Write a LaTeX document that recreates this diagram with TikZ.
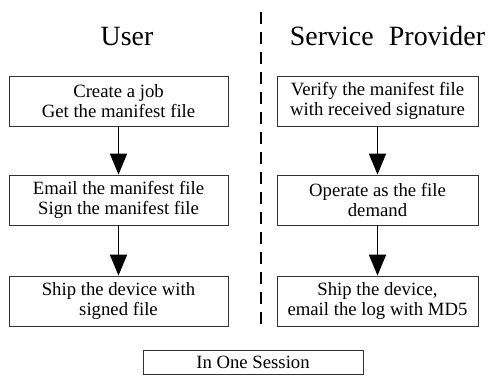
\documentclass[tikz,border=0pt]{standalone}
\usepackage{fontspec}
\setmainfont{Liberation Serif}
\usepackage{tikz}
\usetikzlibrary{arrows.meta, positioning}

\begin{document}
\begin{tikzpicture}[
    x=1bp, y=-1bp,
    act/.style={draw, line width=0.8bp, black!80, text=black, inner sep=0pt,
      minimum height=50bp, align=center, font=\fontsize{18.8}{20.5}\selectfont},
    flow/.style={-{Triangle[length=21bp, width=17bp]}, line width=1.8bp},
    head/.style={font=\fontsize{28}{30}\selectfont},
    divide/.style={line width=2bp, dash pattern=on 12bp off 8bp},
  ]
    \useasboundingbox (0,0) rectangle (488,376);
    % column titles
    \node[head] (user) at (127,36) {User};
    \node[head] (prov) at (387.5,36) {Service\hspace{0.3em} Provider};
    % user side
    \node[act, minimum width=219bp] (u1) at (118.5,101) {Create a job\\Get the manifest file};
    \node[act, minimum width=219bp] (u2) at (118.5,200) {Email the manifest file\\Sign the manifest file};
    \node[act, minimum width=219bp] (u3) at (118.5,301) {Ship the device with\\signed file};
    % provider side
    \node[act, minimum width=201bp] (p1) at (377.5,101) {Verify the manifest file\\with received signature};
    \node[act, minimum width=201bp] (p2) at (377.5,200) {Operate as the file\\demand};
    \node[act, minimum width=201bp] (p3) at (377.5,301) {Ship the device,\\email the log with MD5};
    \foreach \a/\b in {u1/u2, u2/u3, p1/p2, p2/p3}
      \draw[flow] (\a) -- (\b);
    % divider between the two parties
    \coordinate (dtop) at (261,12);
    \coordinate (dbot) at (261,327);
    \draw[divide] (dtop) -- (dbot);
    \node[act, minimum width=220bp, minimum height=24bp] (sess) at (253,362) {In One Session};
\end{tikzpicture}
\end{document}
